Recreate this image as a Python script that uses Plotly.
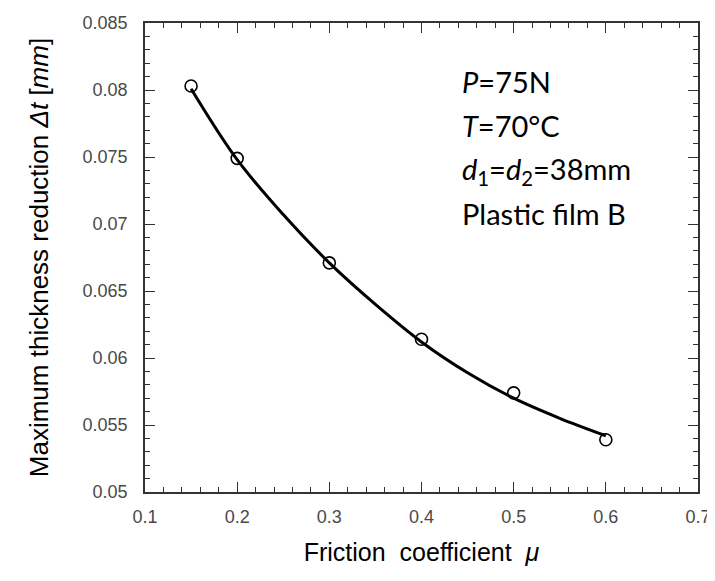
import plotly.graph_objects as go

mu_pts = [0.15, 0.2, 0.3, 0.4, 0.5, 0.6]
dt_pts = [0.0803, 0.0749, 0.0671, 0.0614, 0.0574, 0.0539]

mu_fit = [0.15, 0.2, 0.25, 0.3, 0.35, 0.4, 0.45, 0.5, 0.55, 0.6]
dt_fit = [0.0801, 0.0748, 0.0707, 0.0671, 0.0640, 0.0612, 0.0589, 0.0570, 0.0555, 0.0542]

x_ticks = [0.1, 0.2, 0.3, 0.4, 0.5, 0.6, 0.7]
y_ticks = [0.05, 0.055, 0.06, 0.065, 0.07, 0.075, 0.08, 0.085]

notes = ["<i>P</i>=75N", "<i>T</i>=70°C", "<i>d</i><sub>1</sub>=<i>d</i><sub>2</sub>=38mm", "Plastic film B"]

# page has an 8px body margin; compensate so the plot lands at the reference pixels
OFF = 8
W, H = 715 - OFF, 581 - OFF
L, R, T, B = 145 - OFF, 17, 23 - OFF, 89
pw, ph = W - L - R, H - T - B

fig = go.Figure()
fig.add_trace(go.Scatter(x=mu_fit, y=dt_fit, mode="lines", line=dict(color="black", width=3, shape="spline"), showlegend=False))
fig.add_trace(go.Scatter(x=mu_pts, y=dt_pts, mode="markers",
                         marker=dict(symbol="circle-open", size=12, color="black", line=dict(width=1.6)),
                         showlegend=False))

tickfont = dict(family="Liberation Sans, Arial", size=18, color="#4a4a4a")
fig.update_xaxes(range=[0.1, 0.7], tickvals=x_ticks, ticktext=[f"{v:g}" for v in x_ticks],
                 ticks="inside", ticklen=10, tickwidth=1.3, tickcolor="#333",
                 minor=dict(dtick=0.02, ticks="inside", ticklen=5, tickwidth=1.2, tickcolor="#333"),
                 showline=True, linecolor="#333", linewidth=1.6, mirror="allticks",
                 showgrid=False, zeroline=False, tickfont=tickfont, ticklabelstandoff=8, automargin=False,
                 title=dict(text="Friction  coefficient  <i>μ</i>",
                            font=dict(family="Liberation Sans, Arial", size=25, color="black"), standoff=17))
fig.update_yaxes(range=[0.05, 0.085], tickvals=y_ticks, ticktext=[f"{v:g}" for v in y_ticks],
                 ticks="inside", ticklen=10, tickwidth=1.3, tickcolor="#333",
                 minor=dict(dtick=0.001, ticks="inside", ticklen=5, tickwidth=1.2, tickcolor="#333"),
                 showline=True, linecolor="#333", linewidth=1.6, mirror="allticks",
                 showgrid=False, zeroline=False, tickfont=tickfont, ticklabelstandoff=12, automargin=False,
                 title=dict(text="Maximum thickness reduction <i>Δt</i> [<i>mm</i>]",
                            font=dict(family="Liberation Sans, Arial", size=26, color="black"), standoff=26))

for i, t in enumerate(notes):
    fig.add_annotation(xref="paper", yref="paper", x=(460 - 145) / pw, y=1 - (82 + 44 * i - 23) / ph,
                       text=t, showarrow=False, xanchor="left", yanchor="middle",
                       font=dict(family="Lato, Open Sans", size=29, color="black"))

fig.update_layout(width=W, height=H, margin=dict(l=L, r=R, t=T, b=B),
                  paper_bgcolor="white", plot_bgcolor="white")
fig.write_html("out.html")
